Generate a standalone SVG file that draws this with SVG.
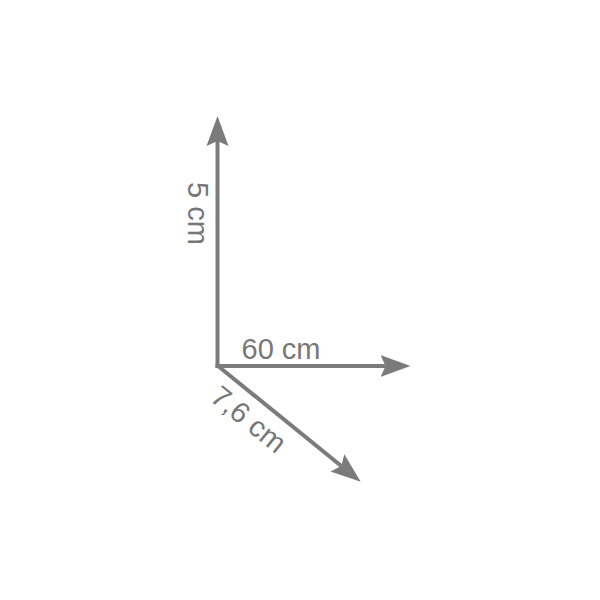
<svg xmlns="http://www.w3.org/2000/svg" width="600" height="600" viewBox="0 0 600 600">
  <style>
    .ax { stroke: #7b7b7b; stroke-width: 4; fill: none; }
    .lbl { font-family: "Liberation Sans", Arial, sans-serif; font-size: 29px; fill: #777777; }
  </style>
  <defs>
    <marker id="head" markerUnits="userSpaceOnUse" markerWidth="32" markerHeight="24" viewBox="0 -12 32 24" refX="5" refY="0" orient="auto">
      <path d="M0,-11 L30,0 L0,11 L5,0 Z" fill="#7b7b7b"/>
    </marker>
  </defs>
  <rect width="600" height="600" fill="#ffffff"/>
  <g id="connectors">
    <line class="ax" x1="217.5" y1="367.5" x2="217.5" y2="141" marker-end="url(#head)"/>
    <line class="ax" x1="215.5" y1="366" x2="385.5" y2="366" marker-end="url(#head)"/>
    <line class="ax" x1="218" y1="366" x2="341.3" y2="466" marker-end="url(#head)"/>
  </g>
  <g id="label-height">
    <text class="lbl" transform="translate(188,182) rotate(90)">5 cm</text>
  </g>
  <g id="label-width">
    <text class="lbl" x="241.5" y="359">60 cm</text>
  </g>
  <g id="label-depth">
    <text class="lbl" transform="translate(218,366) rotate(39)" x="14" y="32">7,6 cm</text>
  </g>
</svg>
